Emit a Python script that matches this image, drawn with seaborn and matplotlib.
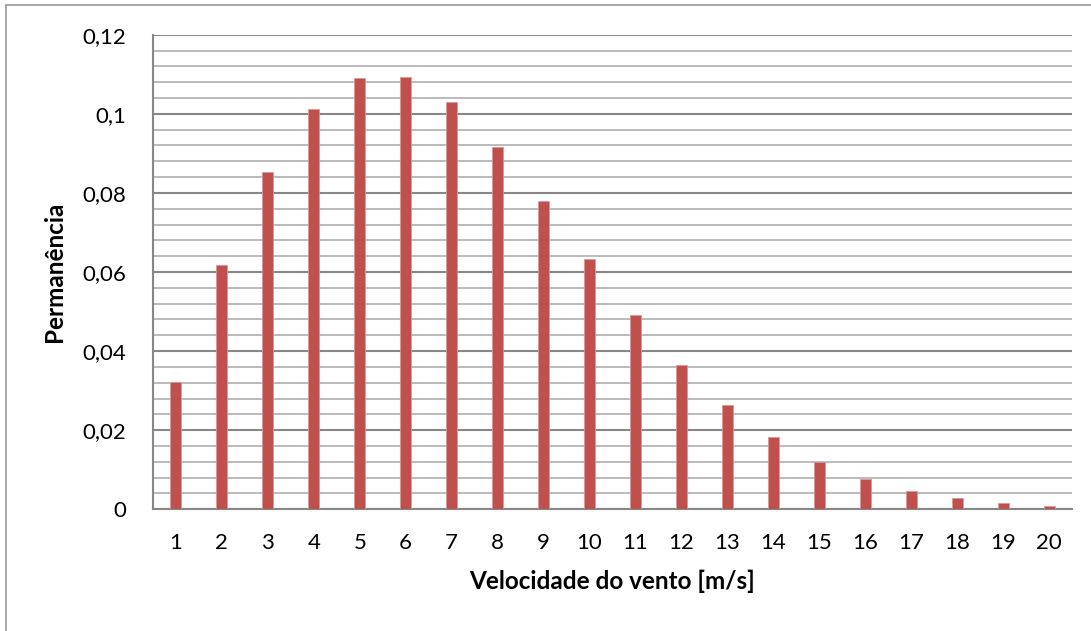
import matplotlib
matplotlib.use("Agg")
import matplotlib.pyplot as plt
from matplotlib.lines import Line2D
from matplotlib.ticker import MultipleLocator
import seaborn as sns
import pandas as pd

# Wind speed classes [m/s] and their frequency of occurrence
velocidades = [str(v) for v in range(1, 21)]
permanencia = [0.0323, 0.0617, 0.0852, 0.1013, 0.1091, 0.1092, 0.1029, 0.0917,
               0.0779, 0.0632, 0.0492, 0.0366, 0.0263, 0.0182, 0.0120, 0.0077,
               0.0046, 0.0028, 0.0015, 0.0008]
y_ticks = [0, 0.02, 0.04, 0.06, 0.08, 0.1, 0.12]
y_tick_labels = ["0", "0,02", "0,04", "0,06", "0,08", "0,1", "0,12"]

df = pd.DataFrame({"velocidade": velocidades, "permanencia": permanencia})

sns.set_theme(style="white")
plt.rcParams["font.family"] = ["Lato", "DejaVu Sans"]

W, H = 1091, 631
fig = plt.figure(figsize=(W / 100, H / 100), dpi=100)
ax = fig.add_axes([153 / W, 1 - 509.3 / H, (1072 - 153) / W, (509.3 - 34.7) / H])

sns.barplot(data=df, x="velocidade", y="permanencia", color="#C0504D",
            width=0.24, saturation=1, edgecolor="#D99896", linewidth=0.6,
            ax=ax, zorder=3)

ax.set_ylim(0, 0.12)
ax.set_yticks(y_ticks)
ax.set_yticklabels(y_tick_labels)
ax.yaxis.set_minor_locator(MultipleLocator(0.004))

major_c = "#878787"
minor_c = "#BBBBBB"
ax.grid(axis="y", which="minor", color=minor_c, linewidth=1.4, zorder=0)
ax.grid(axis="y", which="major", color=major_c, linewidth=1.5, zorder=1)
ax.set_axisbelow(True)

for s in ["top", "right"]:
    ax.spines[s].set_visible(False)
for s in ["left", "bottom"]:
    ax.spines[s].set_color(major_c)
    ax.spines[s].set_linewidth(1.5)

ax.tick_params(axis="y", which="major", length=6, width=1.5, color=major_c,
               direction="out", pad=13, labelsize=16, labelcolor="black")
ax.tick_params(axis="y", which="minor", length=0)
ax.tick_params(axis="x", length=0, pad=17, labelsize=16, labelcolor="black")

ax.set_xlabel("Velocidade do vento [m/s]", fontsize=17.5, fontweight="bold",
              labelpad=12, color="black")
ax.set_ylabel("Permanência", fontsize=17.5, fontweight="bold",
              labelpad=12, color="black")

# chart area frame
frame_c = "#999999"
fig.add_artist(Line2D([6 / W, 6 / W], [0, 1 - 5 / H], transform=fig.transFigure,
                      color=frame_c, linewidth=1.2))
fig.add_artist(Line2D([6 / W, 1], [1 - 5 / H, 1 - 5 / H], transform=fig.transFigure,
                      color=frame_c, linewidth=1.2))

fig.savefig("out.png", dpi=100, facecolor="white")
